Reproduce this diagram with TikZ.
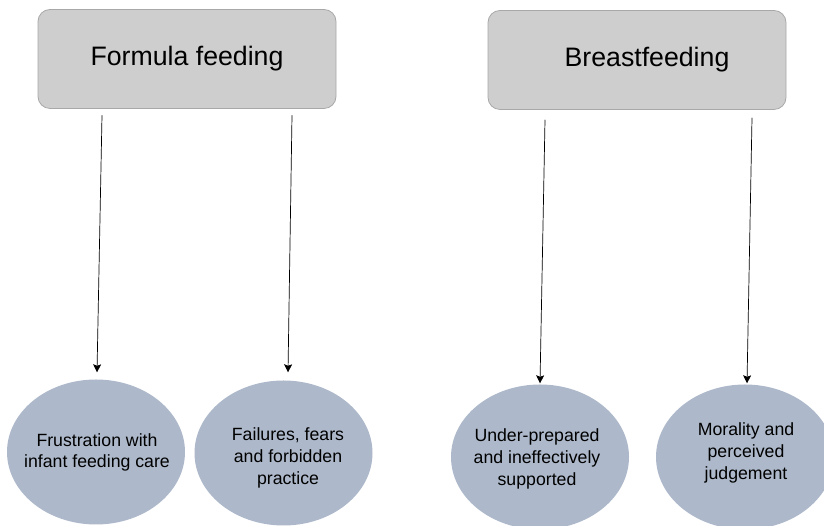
\documentclass[tikz,border=0pt]{standalone}
\usepackage{fontspec}
\setmainfont{Liberation Sans}
\usetikzlibrary{shapes.geometric,arrows.meta}
\definecolor{boxgray}{HTML}{CFCECE}
\definecolor{boxline}{HTML}{A8A8A8}
\definecolor{themeblue}{HTML}{ADB9CA}
\tikzset{
  headbox/.style={draw=boxline, fill=boxgray, rounded corners=12pt, line width=0.8pt,
    minimum width=298pt, minimum height=99pt, font=\fontsize{26.7}{32}\selectfont},
  theme/.style={ellipse, fill=themeblue, minimum width=178pt, minimum height=145pt, inner sep=0pt},
  themetext/.style={align=center, inner sep=0pt, font=\fontsize{17.7}{21.7}\selectfont},
  arr/.style={-{Stealth[length=8pt,width=8pt,inset=1.5pt]}, line width=0.7pt}
}
\begin{document}
\begin{tikzpicture}[x=1pt, y=1pt, line join=round, line cap=round]
\useasboundingbox (0,0) rectangle (824,526);
\clip (0,0) rectangle (824,526);
% the two feeding modes
\node[headbox] (formula) at (187,467) {Formula feeding};
\node[headbox] (breast) at (637,466) {\hspace*{20pt}Breastfeeding};
% themes
\node[theme] (frustration) at (96,74) {};
\node[theme] (failures) at (283.5,73) {};
\node[theme] (underprep) at (540,69) {};
\node[theme] (morality) at (745,69) {};
\node[themetext] (frustrationtxt) at (97,73.5) {Frustration with\\infant feeding care};
\node[themetext] (failurestxt) at (288,68) {Failures, fears\\and forbidden\\practice};
\node[themetext] (underpreptxt) at (537,67) {Under-prepared\\and ineffectively\\supported};
\node[themetext] (moralitytxt) at (746,73) {Morality and\\perceived\\judgement};
% arrows
\draw[arr] ([xshift=-85pt,yshift=-6.5pt]formula.south) -- ([xshift=1pt,yshift=7pt]frustration.north);
\draw[arr] ([xshift=105pt,yshift=-6.5pt]formula.south) -- ([xshift=4.5pt,yshift=8pt]failures.north);
\draw[arr] ([xshift=-92pt,yshift=-10pt]breast.south) -- ([yshift=1pt]underprep.north);
\draw[arr] ([xshift=115pt,yshift=-8pt]breast.south) -- ([xshift=2pt,yshift=1pt]morality.north);
\end{tikzpicture}
\end{document}
